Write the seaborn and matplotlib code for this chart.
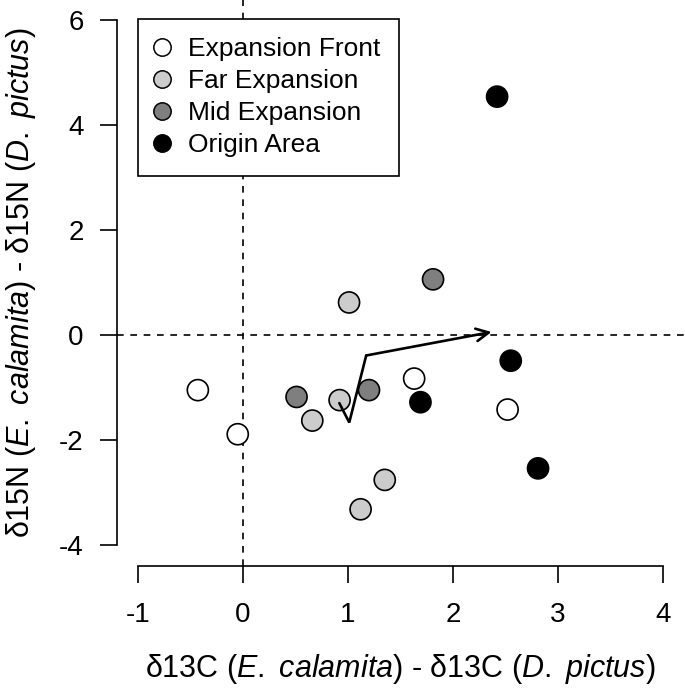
import numpy as np
import pandas as pd
import seaborn as sns
import matplotlib.pyplot as plt

# values
groups = ['Expansion Front', 'Far Expansion', 'Mid Expansion', 'Origin Area']
colors = ['#FFFFFF', '#CCCCCC', '#7F7F7F', '#000000']

front_c = [-0.43, -0.05, 1.63, 2.52]
front_n = [-1.05, -1.89, -0.83, -1.42]
far_c = [1.01, 0.92, 0.66, 1.35, 1.12]
far_n = [0.62, -1.24, -1.63, -2.76, -3.32]
mid_c = [1.81, 0.51, 1.20]
mid_n = [1.06, -1.18, -1.05]
origin_c = [2.42, 2.55, 1.69, 2.81]
origin_n = [4.54, -0.49, -1.28, -2.54]

x_ticks = [-1, 0, 1, 2, 3, 4]
y_ticks = [-4, -2, 0, 2, 4, 6]

df = pd.concat([
    pd.DataFrame({'d13C': front_c, 'd15N': front_n, 'site': groups[0]}),
    pd.DataFrame({'d13C': far_c, 'd15N': far_n, 'site': groups[1]}),
    pd.DataFrame({'d13C': mid_c, 'd15N': mid_n, 'site': groups[2]}),
    pd.DataFrame({'d13C': origin_c, 'd15N': origin_n, 'site': groups[3]}),
], ignore_index=True)

sns.set_style('white')
plt.rcParams['font.family'] = ['Liberation Sans', 'DejaVu Sans']
plt.rcParams['mathtext.fontset'] = 'custom'
plt.rcParams['mathtext.rm'] = 'Liberation Sans'
plt.rcParams['mathtext.it'] = 'Liberation Sans:italic'
plt.rcParams['text.color'] = 'black'
plt.rcParams['axes.labelcolor'] = 'black'

fig = plt.figure(figsize=(6.85, 6.89), dpi=100)
ax = fig.add_axes([117 / 685, 1 - 566 / 689, 567 / 685, 567 / 689])

ax.axvline(0, color='black', ls=(0, (4, 4)), lw=1.2, zorder=1)
ax.axhline(0, color='black', ls=(0, (4, 4)), lw=1.2, zorder=1)

sns.scatterplot(data=df, x='d13C', y='d15N', hue='site', hue_order=groups,
                palette=dict(zip(groups, colors)), s=230, edgecolor='black',
                linewidth=1.2, ax=ax, zorder=3)

# path of the group means, ending in an arrow
means = df.groupby('site', sort=False)[['d13C', 'd15N']].mean().loc[groups]
ax.plot(means['d13C'][:-1], means['d15N'][:-1], color='black', lw=1.9,
        solid_joinstyle='miter', zorder=4)
ax.annotate('', xy=(means['d13C'].iloc[-1], means['d15N'].iloc[-1]),
            xytext=(means['d13C'].iloc[-2], means['d15N'].iloc[-2]),
            arrowprops=dict(arrowstyle='->,head_length=0.9,head_width=0.45',
                            color='black', lw=1.9, shrinkA=0, shrinkB=0),
            zorder=4)

ax.set_xlim(-1.2, 4.2)
ax.set_ylim(-4.4, 6.4)
ax.set_xticks(x_ticks)
ax.set_yticks(y_ticks)
ax.set_xticklabels([str(t) for t in x_ticks])
ax.set_yticklabels([str(t) for t in y_ticks])
for s in ['top', 'right']:
    ax.spines[s].set_visible(False)
ax.spines['bottom'].set_bounds(-1, 4)
ax.spines['left'].set_bounds(-4, 6)
for s in ['bottom', 'left']:
    ax.spines[s].set_color('black')
    ax.spines[s].set_linewidth(1.2)
ax.tick_params(axis='both', direction='out', length=12, width=1.2,
               color='black', labelsize=20, labelcolor='black',
               bottom=True, left=True)
ax.tick_params(axis='x', pad=14)
ax.tick_params(axis='y', pad=12)

ax.set_xlabel(r'δ13C ($\mathit{E.}$ $\mathit{calamita}$) - δ13C ($\mathit{D.}$ $\mathit{pictus}$)',
              fontsize=22, labelpad=17)
ax.set_ylabel(r'δ15N ($\mathit{E.}$ $\mathit{calamita}$) - δ15N ($\mathit{D.}$ $\mathit{pictus}$)',
              fontsize=22, labelpad=15)

leg = ax.legend(loc='upper left', bbox_to_anchor=(21 / 567, 1 - 20 / 567),
                borderaxespad=0, frameon=True, fancybox=False,
                edgecolor='black', framealpha=1, fontsize=19,
                handletextpad=0.75, labelspacing=0.3,
                borderpad=0.7, handlelength=0.45)
leg.get_frame().set_linewidth(1.2)
for h in leg.legend_handles:
    h.set_markeredgecolor('black')
    h.set_markeredgewidth(1.1)
    h.set_markersize(12.5)

fig.savefig('out.png', dpi=100)
